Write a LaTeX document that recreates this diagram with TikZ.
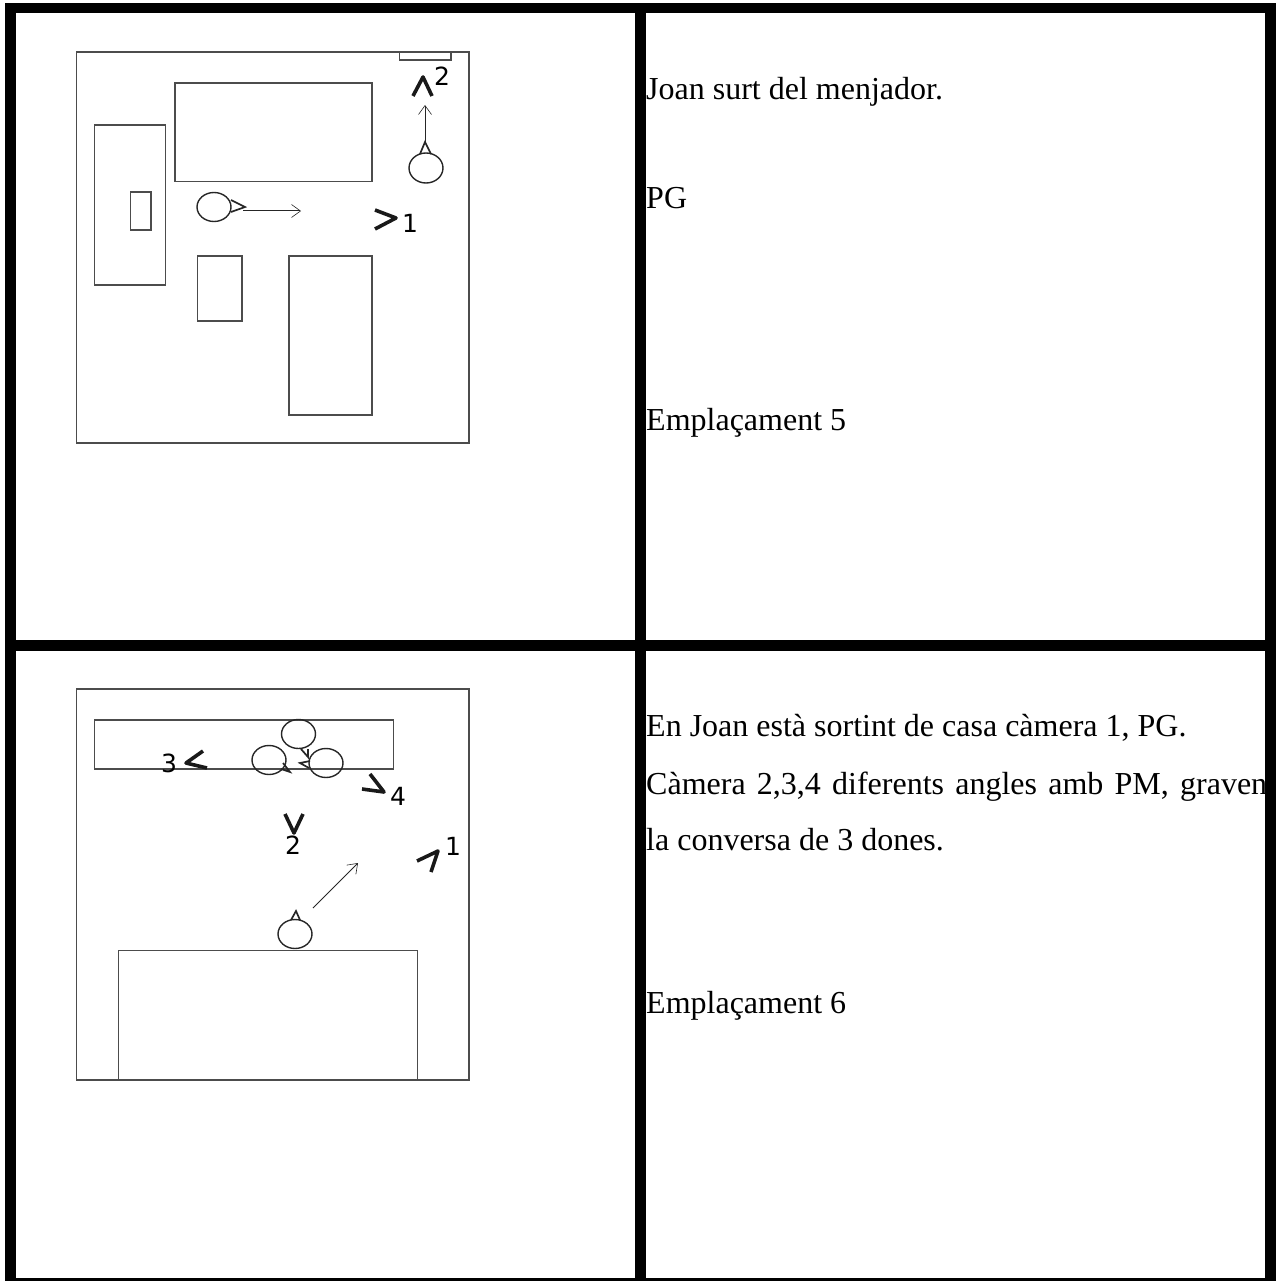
\documentclass[tikz,border=0pt]{standalone}
\usepackage{fontspec}
\setmainfont{Liberation Serif}
\newfontfamily\camfont{DejaVu Sans}
\usetikzlibrary{arrows.meta}
\tikzset{
  plan/.style={draw=black!70,line width=1.1pt},
  head/.style={draw=black!85,line width=1.4pt},
  nose/.style={draw=black!85,line width=1.7pt},
  walk/.style={draw=black!85,line width=1pt,-{Straight Barb[length=9pt,width=13pt,line width=.6pt]}},
  camera/.style={draw=black!90,line width=3.6pt,line join=round},
  camnum/.style={inner sep=0pt,font=\fontsize{25}{25}\camfont},
  caption/.style={anchor=base west,inner sep=0pt,font=\fontsize{32}{32}\selectfont},
}
\begin{document}
\begin{tikzpicture}[x=1pt,y=-1pt]
\useasboundingbox (0,0) rectangle (1279,1281);
% frame
\fill (5,3) rectangle (1276,13);
\fill (5,640) rectangle (1276,650.5);
\fill (5,1278) rectangle (1276,1281);
\fill (5,3) rectangle (16,1281);
\fill (635,3) rectangle (646,1281);
\fill (1265,3) rectangle (1276,1281);
% first plan
\draw [plan] (76.5,52) rectangle (469,443);
\draw [plan] (399.5,52) rectangle (451,60);
\draw [plan] (175,83) rectangle (372,181.5);
\draw [plan] (94.5,125) rectangle (165.5,285);
\draw [plan] (130.5,192) rectangle (151,230);
\draw [plan] (197.5,256) rectangle (242,321);
\draw [plan] (289,256) rectangle (372,415);
\draw [head] (214,207) ellipse [x radius=17,y radius=14.5];
\draw [nose] (231,200) -- (245,207) -- (231,212);
\coordinate (joanafrom) at (243,211);
\coordinate (joanato) at (301,211);
\draw [walk] (joanafrom) -- (joanato);
\draw [head] (426,168) ellipse [x radius=17,y radius=15];
\draw [nose] (420,154) -- (425,142) -- (431,154);
\coordinate (joanbfrom) at (425,142);
\coordinate (joanbto) at (425,105);
\draw [walk] (joanbfrom) -- (joanbto);
\draw [camera] (413,96) -- (423,77) -- (432,96);
\node (camb) [camnum] at (442,76) {2};
\draw [camera] (375,210) -- (396,218) -- (375,229);
\node (cama) [camnum] at (410,223) {1};
% second plan
\draw [plan] (76.5,689) rectangle (469,1080);
\draw [plan] (94.5,720) rectangle (393.5,769);
\draw [plan] (118.5,950.5) rectangle (417.5,1080);
\draw [head] (298.5,734) ellipse [x radius=17,y radius=14.5];
\draw [head] (269,760) ellipse [x radius=17,y radius=14.5];
\draw [head] (326,763) ellipse [x radius=17,y radius=14.5];
\draw [nose] (301,749) -- (308,757) -- (308,749);
\draw [nose] (283,763) -- (290,772) -- (281,769);
\draw [nose] (310,761) -- (300,763) -- (309,768);
\draw [head] (295,934) ellipse [x radius=17,y radius=14.5];
\draw [nose] (291,920) -- (296,911) -- (300,920);
\coordinate (joancfrom) at (313,908);
\coordinate (joancto) at (358,863);
\draw [walk] (joancfrom) -- (joancto);
\draw [camera] (203,751) -- (186,763) -- (207,768);
\node (camc) [camnum] at (169,763) {3};
\draw [camera] (370,774) -- (384,792) -- (362,789);
\node (camd) [camnum] at (398,796) {4};
\draw [camera] (285,814) -- (294,833) -- (303,814);
\node (came) [camnum] at (293,845) {2};
\draw [camera] (417,861) -- (438,851) -- (431,872);
\node (camf) [camnum] at (453,846) {1};
% captions
\node (capa) [caption] at (646,100) {Joan surt del menjador.};
\node (capb) [caption] at (646,209) {PG};
\node (capc) [caption] at (646,430) {Emplaçament 5};
\node (capd) [caption] at (646,736) {En Joan està sortint de casa càmera 1, PG.};
\node (cape) [caption] at (646,794) {\makebox[621pt][s]{Càmera 2,3,4 diferents angles amb PM, graven}};
\node (capf) [caption] at (646,850) {la conversa de 3 dones.};
\node (capg) [caption] at (646,1013) {Emplaçament 6};
\end{tikzpicture}
\end{document}
